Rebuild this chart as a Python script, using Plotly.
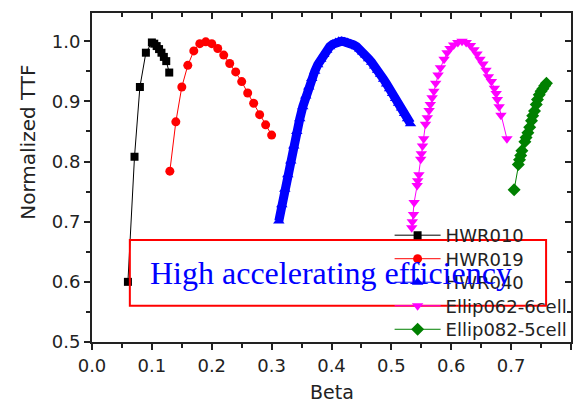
import plotly.graph_objects as go

# ---------------- data ----------------
hwr010_beta = [0.060, 0.071, 0.080, 0.090, 0.100, 0.104, 0.108, 0.112, 0.116, 0.120, 0.124, 0.129]
hwr010_ttf = [0.600, 0.808, 0.924, 0.981, 0.998, 0.996, 0.992, 0.987, 0.981, 0.974, 0.967, 0.948]

hwr019_beta = [0.13, 0.14, 0.15, 0.16, 0.17, 0.18, 0.19, 0.20, 0.21, 0.22,
               0.23, 0.24, 0.25, 0.26, 0.27, 0.28, 0.29, 0.30]
hwr019_ttf = [0.784, 0.866, 0.924, 0.960, 0.984, 0.996, 0.999, 0.996, 0.988, 0.977,
              0.963, 0.949, 0.933, 0.914, 0.897, 0.878, 0.861, 0.844]

hwr040_beta = [0.312, 0.317, 0.322, 0.327, 0.332, 0.337, 0.342, 0.347, 0.352, 0.357,
               0.362, 0.367, 0.372, 0.377, 0.382, 0.387, 0.392, 0.397, 0.402, 0.407,
               0.412, 0.417, 0.422, 0.427, 0.432, 0.437, 0.442, 0.447, 0.452, 0.457,
               0.462, 0.467, 0.472, 0.477, 0.482, 0.487, 0.492, 0.497, 0.502, 0.507,
               0.512, 0.517, 0.522, 0.527, 0.532]
hwr040_ttf = [0.701, 0.728, 0.754, 0.778, 0.801, 0.826, 0.850, 0.871, 0.891, 0.909,
              0.924, 0.938, 0.950, 0.961, 0.970, 0.978, 0.985, 0.991, 0.995, 0.998,
              1.000, 1.000, 0.999, 0.998, 0.996, 0.994, 0.991, 0.987, 0.982, 0.977,
              0.971, 0.965, 0.959, 0.952, 0.945, 0.937, 0.929, 0.921, 0.913, 0.905,
              0.897, 0.889, 0.880, 0.871, 0.863]

ellip062_beta = [0.534, 0.535, 0.537, 0.538, 0.543, 0.544, 0.546, 0.549, 0.550, 0.552,
                 0.554, 0.557, 0.560, 0.563, 0.565, 0.568, 0.571, 0.574, 0.578, 0.582,
                 0.588, 0.593, 0.598, 0.604, 0.611, 0.618, 0.625, 0.632, 0.638, 0.643,
                 0.648, 0.653, 0.658, 0.662, 0.667, 0.672, 0.675, 0.677, 0.680, 0.683,
                 0.693]
ellip062_ttf = [0.690, 0.700, 0.712, 0.732, 0.760, 0.768, 0.778, 0.804, 0.813, 0.826,
                0.838, 0.862, 0.873, 0.885, 0.895, 0.906, 0.917, 0.930, 0.944, 0.956,
                0.970, 0.981, 0.988, 0.994, 0.998, 1.000, 0.998, 0.993, 0.986, 0.979,
                0.970, 0.962, 0.952, 0.941, 0.933, 0.922, 0.913, 0.903, 0.891, 0.877,
                0.838]

ellip082_beta = [0.705, 0.712, 0.714, 0.716, 0.718, 0.723, 0.725, 0.728, 0.731, 0.734,
                 0.736, 0.739, 0.742, 0.744, 0.747, 0.750, 0.753, 0.756, 0.759]
ellip082_ttf = [0.753, 0.795, 0.803, 0.810, 0.818, 0.833, 0.840, 0.848, 0.857, 0.868,
                0.876, 0.884, 0.895, 0.903, 0.911, 0.917, 0.921, 0.926, 0.930]

x_ticks = [0.0, 0.1, 0.2, 0.3, 0.4, 0.5, 0.6, 0.7, 0.8]
y_ticks = [0.5, 0.6, 0.7, 0.8, 0.9, 1.0]

label_text = "High accelerating efficiency"
x_title = "Beta"
y_title = "Normalized TTF"

FONT = "DejaVu Sans"
INK = "#222222"

fig = go.Figure()

fig.add_trace(go.Scatter(x=hwr010_beta, y=hwr010_ttf, name="HWR010", mode="lines+markers",
                         line=dict(color="black", width=1), legend="legend",
                         marker=dict(symbol="square", size=8, color="black")))
fig.add_trace(go.Scatter(x=hwr019_beta, y=hwr019_ttf, name="HWR019", mode="lines+markers",
                         line=dict(color="#FF0000", width=1), legend="legend2",
                         marker=dict(symbol="circle", size=9, color="#FF0000")))
# dense band of HWR040 (thick line underneath the markers)
fig.add_trace(go.Scatter(x=hwr040_beta, y=hwr040_ttf, mode="lines", showlegend=False,
                         line=dict(color="#0000FF", width=9), hoverinfo="skip"))
fig.add_trace(go.Scatter(x=hwr040_beta, y=hwr040_ttf, name="HWR040", mode="lines+markers",
                         line=dict(color="#0000FF", width=1), legend="legend3",
                         marker=dict(symbol="triangle-up", size=10, color="#0000FF")))
fig.add_trace(go.Scatter(x=ellip062_beta, y=ellip062_ttf, name="Ellip062-6cell", mode="lines+markers",
                         line=dict(color="#FF00FF", width=1), legend="legend4",
                         marker=dict(symbol="triangle-down", size=10, color="#FF00FF")))
fig.add_trace(go.Scatter(x=ellip082_beta, y=ellip082_ttf, name="Ellip082-5cell", mode="lines+markers",
                         line=dict(color="#008000", width=1), legend="legend5",
                         marker=dict(symbol="diamond", size=10, color="#008000")))
# helper trace for mirrored (inside-tick) axes
fig.add_trace(go.Scatter(x=[], y=[], xaxis="x2", yaxis="y2", showlegend=False, hoverinfo="skip"))

xr = [0.0, 0.8]
yr = [0.5, 1.047]


def legend_box(ytop):
    return dict(x=0.62, y=ytop, xanchor="left", yanchor="top",
                bgcolor="rgba(0,0,0,0)", borderwidth=0,
                font=dict(family=FONT, size=18, color=INK),
                itemwidth=46, tracegroupgap=0)


row_step = 0.0715
axis_common = dict(tickcolor=INK, tickwidth=1.5, showline=True, linewidth=2, linecolor=INK,
                   showgrid=False, zeroline=False)

fig.update_layout(
    width=582, height=404,
    margin=dict(l=92, r=10, t=13, b=62),
    paper_bgcolor="white", plot_bgcolor="white",
    font=dict(family=FONT, size=18, color=INK),
    showlegend=True,
    legend=legend_box(0.38),
    legend2=legend_box(0.38 - row_step),
    legend3=legend_box(0.38 - 2 * row_step),
    legend4=legend_box(0.38 - 3 * row_step),
    legend5=legend_box(0.38 - 4 * row_step),
    xaxis=dict(range=xr, tickvals=x_ticks, tickformat=".1f", ticks="outside", ticklen=6,
               mirror=False, **axis_common,
               minor=dict(dtick=0.05, tick0=0, ticks="outside", ticklen=4, tickwidth=1.5,
                          tickcolor=INK, showgrid=False),
               tickfont=dict(family=FONT, size=18, color=INK)),
    yaxis=dict(range=yr, tickvals=y_ticks, tickformat=".1f", ticks="outside", ticklen=6,
               mirror=False, **axis_common,
               minor=dict(dtick=0.05, tick0=0.5, ticks="outside", ticklen=4, tickwidth=1.5,
                          tickcolor=INK, showgrid=False),
               tickfont=dict(family=FONT, size=18, color=INK)),
    xaxis2=dict(range=xr, overlaying="x", side="top", anchor="y", tickvals=x_ticks,
                showticklabels=False, ticks="inside", ticklen=6, **axis_common,
                minor=dict(dtick=0.05, tick0=0, ticks="inside", ticklen=4, tickwidth=1.5,
                           tickcolor=INK, showgrid=False)),
    yaxis2=dict(range=yr, overlaying="y", side="right", anchor="x", tickvals=y_ticks,
                showticklabels=False, ticks="inside", ticklen=6, **axis_common,
                minor=dict(dtick=0.05, tick0=0.5, ticks="inside", ticklen=4, tickwidth=1.5,
                           tickcolor=INK, showgrid=False)),
)

# axis titles
fig.add_annotation(text=x_title, xref="paper", yref="paper", x=0.5, y=-0.152,
                   xanchor="center", yanchor="middle", showarrow=False,
                   font=dict(family=FONT, size=19, color=INK))
fig.add_annotation(text=y_title, xref="paper", yref="paper", x=-0.134, y=0.608,
                   xanchor="center", yanchor="middle", showarrow=False, textangle=-90,
                   font=dict(family=FONT, size=20, color=INK))

fig.add_shape(type="rect", xref="paper", yref="paper", x0=0.079, x1=0.948, y0=0.110, y1=0.310,
              line=dict(color="#FF0000", width=2), fillcolor="rgba(0,0,0,0)", layer="above")
fig.add_annotation(text=label_text, xref="paper", yref="paper", x=0.498, y=0.21,
                   xanchor="center", yanchor="middle", showarrow=False,
                   font=dict(family="Liberation Serif", size=32, color="#0000FF"))

fig.write_html("out.html")
